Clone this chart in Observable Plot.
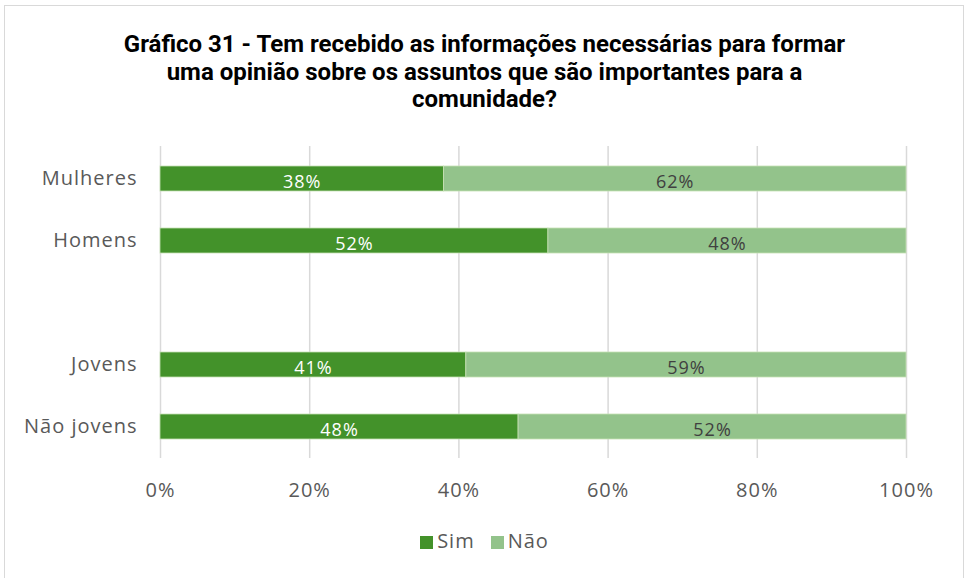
<!DOCTYPE html>
<html><head><meta charset="utf-8">
<script src="https://cdn.jsdelivr.net/npm/d3@7"></script>
<script src="https://cdn.jsdelivr.net/npm/@observablehq/plot@0.6"></script>
<style>
body{margin:0;background:#fff;font-family:"Open Sans",sans-serif;}
#frame{position:absolute;left:4px;top:5px;width:960px;height:590px;border:1.5px solid #d9d9d9;border-bottom:none;box-sizing:border-box;}
#title{position:absolute;left:0;top:31px;width:969px;text-align:center;font-family:Roboto,sans-serif;font-weight:bold;font-size:24px;line-height:27.5px;color:#000;}
#chart{position:absolute;left:0;top:130px;}
#chart svg text{letter-spacing:1px;}
#legend{position:absolute;left:0;top:527px;width:969px;text-align:center;font-size:20px;color:#595959;letter-spacing:1px;}
.sw{display:inline-block;width:13px;height:13px;margin-right:4px;vertical-align:-1px;}
.li{display:inline-block;margin:0 8px;}
</style></head>
<body>
<div id="frame"></div>
<div id="title">Gráfico 31 - Tem recebido as informações necessárias para formar<br>uma opinião sobre os assuntos que são importantes para a<br>comunidade?</div>
<div id="chart"></div>
<div id="legend"><span class="li"><span class="sw" style="background:#43922a"></span>Sim</span><span class="li"><span class="sw" style="background:#93c38b"></span>Não</span></div>
<script>
const categories = ["Mulheres", "Homens", " ", "Jovens", "Não jovens"];
const groups = ["Mulheres", "Homens", "Jovens", "Não jovens"];
const simValues = [38, 52, 41, 48];
const naoValues = [62, 48, 59, 52];
const seriesNames = ["Sim", "Não"];
const seriesColors = ["#43922a", "#93c38b"];
const xTicks = [0, 20, 40, 60, 80, 100];

const data = [];
groups.forEach((g, i) => {
  data.push({group: g, serie: "Sim", value: simValues[i]});
  data.push({group: g, serie: "Não", value: naoValues[i]});
});

const chart = Plot.plot({
  width: 969,
  height: 380,
  marginLeft: 160,
  marginRight: 63,
  marginTop: 16,
  marginBottom: 52,
  style: {fontFamily: "'Open Sans', sans-serif", fontSize: "20px", color: "#595959"},
  x: {domain: [0, 100], ticks: xTicks, tickFormat: d => d + "%", label: null},
  y: {domain: categories, paddingInner: 0.6, paddingOuter: 0.3, label: null},
  color: {domain: seriesNames, range: seriesColors},
  marks: [
    Plot.gridX(xTicks, {stroke: "#d9d9d9", strokeOpacity: 1, strokeWidth: 1.5}),
    Plot.barX(data, Plot.stackX({x: "value", y: "group", fill: "serie", order: seriesNames, stroke: "#c6e0b4", strokeWidth: 0.8})),
    Plot.text(data, Plot.stackX({x: "value", y: "group", z: "serie", order: seriesNames, text: d => d.value + "%", fill: d => d.serie === "Sim" ? "#ffffff" : "#404040", fontSize: 18, dy: 3})),
    Plot.axisX({ticks: xTicks, tickSize: 0, tickPadding: 24, tickFormat: d => d + "%", fontSize: 20, fill: "#595959", label: null}),
    Plot.axisY({tickSize: 0, tickPadding: 23, fontSize: 20, fill: "#595959", label: null})
  ]
});
document.getElementById("chart").appendChild(chart);
</script>
</body></html>
